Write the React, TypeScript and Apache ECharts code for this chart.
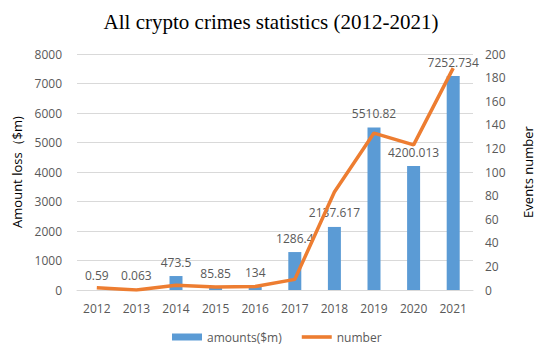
import React, { useEffect, useRef } from "react";
import * as echarts from "echarts";

const years = ["2012", "2013", "2014", "2015", "2016", "2017", "2018", "2019", "2020", "2021"];
const amounts = [0.59, 0.063, 473.5, 85.85, 134, 1286.4, 2137.617, 5510.82, 4200.013, 7252.734];
const amountLabels = ["0.59", "0.063", "473.5", "85.85", "134", "1286.4", "2137.617", "5510.82", "4200.013", "7252.734"];
const events = [2, 0, 4, 2.5, 3, 9, 83, 133, 123, 188];

const FONT = "Open Sans";
const GRAY = "#595959";

export default function App() {
  const ref = useRef<HTMLDivElement>(null);
  useEffect(() => {
    if (!ref.current) return;
    const chart = echarts.init(ref.current, null, { renderer: "svg" });
    chart.setOption({
      animation: false,
      backgroundColor: "#ffffff",
      title: {
        text: "All crypto crimes statistics (2012-2021)",
        left: "center",
        top: 6,
        textStyle: { fontFamily: "Liberation Serif", fontSize: 21, fontWeight: "normal", color: "#000" },
      },
      grid: { left: 77, right: 57, top: 54, bottom: 57 },
      legend: {
        top: 331,
        left: 172,
        padding: 0,
        itemGap: 20,
        itemWidth: 30,
        itemHeight: 7,
        textStyle: { fontFamily: FONT, fontSize: 12, color: GRAY },
        data: [
          { name: "amounts($m)", icon: "rect" },
          { name: "number", icon: "path://M0,0H30V3.6H0Z" },
        ],
      },
      xAxis: {
        type: "category",
        data: years,
        axisTick: { show: false },
        axisLine: { lineStyle: { color: "#d9d9d9" } },
        axisLabel: { color: GRAY, fontFamily: FONT, fontSize: 12, margin: 12 },
      },
      yAxis: [
        {
          type: "value",
          min: 0,
          max: 8000,
          interval: 1000,
          name: "Amount loss（$m)",
          nameLocation: "middle",
          nameGap: 52,
          nameTextStyle: { fontFamily: FONT, fontSize: 13, color: "#000" },
          axisLabel: { color: GRAY, fontFamily: FONT, fontSize: 12, margin: 15, formatter: (v: number) => String(v) },
          splitLine: { lineStyle: { color: "#d9d9d9" } },
        },
        {
          type: "value",
          min: 0,
          max: 200,
          interval: 20,
          name: "Events number",
          nameLocation: "middle",
          nameGap: 48,
          nameRotate: 90,
          nameTextStyle: { fontFamily: FONT, fontSize: 13, color: "#000" },
          axisLabel: { color: GRAY, fontFamily: FONT, fontSize: 12, margin: 12, formatter: (v: number) => String(v) },
          splitLine: { show: false },
        },
      ],
      series: [
        {
          name: "amounts($m)",
          type: "bar",
          yAxisIndex: 0,
          data: amounts,
          barWidth: 13,
          itemStyle: { color: "#5B9BD5" },
          label: {
            show: true,
            position: "top",
            distance: 8,
            color: GRAY,
            fontFamily: FONT,
            fontSize: 12,
            formatter: (p: any) => amountLabels[p.dataIndex],
          },
          z: 2,
        },
        {
          name: "number",
          type: "line",
          yAxisIndex: 1,
          data: events,
          symbol: "none",
          lineStyle: { color: "#ED7D31", width: 3.5 },
          itemStyle: { color: "#ED7D31" },
          z: 3,
        },
      ],
    });
    return () => chart.dispose();
  }, []);
  return <div ref={ref} style={{ width: 542, height: 347, position: "fixed", left: 0, top: 0 }} />;
}
